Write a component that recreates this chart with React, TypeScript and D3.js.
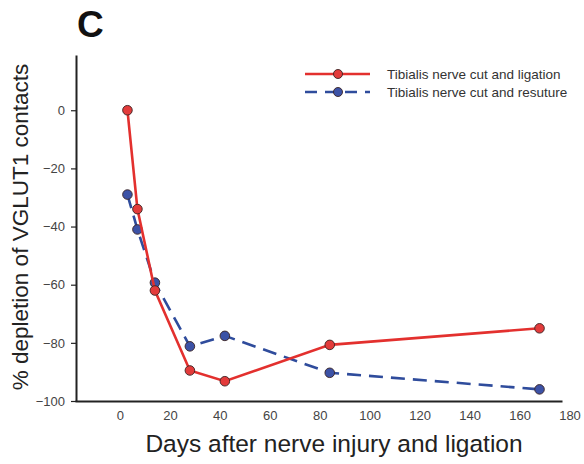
import React, { useEffect, useRef } from 'react';
import * as d3 from 'd3';

// days after injury
const days = [3, 7, 14, 28, 42, 84, 168];
// % depletion of VGLUT1 contacts
const ligation = [0, -34, -62, -89.5, -93.2, -80.7, -75];
const resuture = [-29, -41, -59.3, -81.2, -77.6, -90.3, -96];

const xTicks = [0, 20, 40, 60, 80, 100, 120, 140, 160, 180];
const yTicks = [0, -20, -40, -60, -80, -100];

const seriesNames = ['Tibialis nerve cut and ligation', 'Tibialis nerve cut and resuture'];

const FONT = '"Liberation Sans", Arial, sans-serif';

function App() {
  const svgRef = useRef<SVGSVGElement>(null);

  useEffect(() => {
    const svg = d3.select(svgRef.current);
    svg.selectAll('*').remove();

    // scales: axes start a bit left of 0 and end just short of 180
    const x = d3.scaleLinear().domain([-18, 177]).range([75, 562]);
    const y = d3.scaleLinear().domain([-100, 19]).range([401, 55]);

    // x axis, labels only
    const gx = svg.append('g')
      .attr('transform', `translate(0, ${y(-100)})`)
      .call(d3.axisBottom(x).tickValues(xTicks).tickSize(0).tickPadding(10));
    gx.select('.domain').attr('stroke', '#222').attr('stroke-width', 2);
    gx.selectAll('text').attr('font-family', FONT).attr('font-size', 13).attr('fill', '#444');

    // y axis
    const gy = svg.append('g')
      .attr('transform', `translate(${x(-18) + 1}, 0)`)
      .call(d3.axisLeft(y).tickValues(yTicks).tickSizeInner(5).tickSizeOuter(0).tickPadding(6));
    gy.select('.domain').attr('stroke', '#222').attr('stroke-width', 2);
    gy.selectAll('line').attr('stroke', '#222').attr('stroke-width', 1.2);
    gy.selectAll('text').attr('font-family', FONT).attr('font-size', 13).attr('fill', '#444');

    const line = d3.line<number>()
      .x((_, i) => x(days[i]))
      .y(d => y(d));

    const series = [
      { values: resuture, stroke: '#2f4c9c', fill: '#3c52a6', dash: '14,8' },
      { values: ligation, stroke: '#e3302e', fill: '#e33b3b', dash: null },
    ];

    series.forEach(s => {
      svg.append('path')
        .datum(s.values)
        .attr('fill', 'none')
        .attr('stroke', s.stroke)
        .attr('stroke-width', 2.6)
        .attr('stroke-dasharray', s.dash)
        .attr('d', line);
      svg.selectAll(null)
        .data(s.values)
        .enter()
        .append('circle')
        .attr('cx', (_, i) => x(days[i]))
        .attr('cy', d => y(d))
        .attr('r', 4.8)
        .attr('fill', s.fill)
        .attr('stroke', '#3a2222')
        .attr('stroke-width', 0.9);
    });

    // legend
    const legend = svg.append('g').attr('transform', 'translate(305, 74)');
    const legendItems = [
      { name: seriesNames[0], stroke: '#e3302e', fill: '#e33b3b', dash: null },
      { name: seriesNames[1], stroke: '#2f4c9c', fill: '#3c52a6', dash: '12,8' },
    ];
    legendItems.forEach((d, i) => {
      const g = legend.append('g').attr('transform', `translate(0, ${i * 18})`);
      g.append('line')
        .attr('x1', 0).attr('x2', 65)
        .attr('stroke', d.stroke).attr('stroke-width', 2.6)
        .attr('stroke-dasharray', d.dash);
      g.append('circle')
        .attr('cx', 33).attr('r', 4.5)
        .attr('fill', d.fill).attr('stroke', '#3a2222').attr('stroke-width', 0.9);
      g.append('text')
        .attr('x', 82).attr('dy', '0.35em')
        .attr('font-family', FONT).attr('font-size', 13.5).attr('fill', '#333')
        .text(d.name);
    });

    // axis titles
    svg.append('text')
      .attr('x', 334).attr('y', 452)
      .attr('text-anchor', 'middle')
      .attr('font-family', FONT).attr('font-size', 24.5).attr('fill', '#222')
      .text('Days after nerve injury and ligation');
    svg.append('text')
      .attr('transform', 'translate(28, 227) rotate(-90)')
      .attr('text-anchor', 'middle')
      .attr('font-family', FONT).attr('font-size', 22.5).attr('fill', '#222')
      .text('% depletion of VGLUT1 contacts');

    // panel letter
    svg.append('text')
      .attr('x', 77).attr('y', 37)
      .attr('font-family', FONT).attr('font-size', 37).attr('font-weight', 'bold').attr('fill', '#111')
      .text('C');
  }, []);

  return (
    <svg ref={svgRef} width={584} height={464}
      style={{ position: 'absolute', left: 0, top: 0, background: '#fff' }} />
  );
}

export default App;
